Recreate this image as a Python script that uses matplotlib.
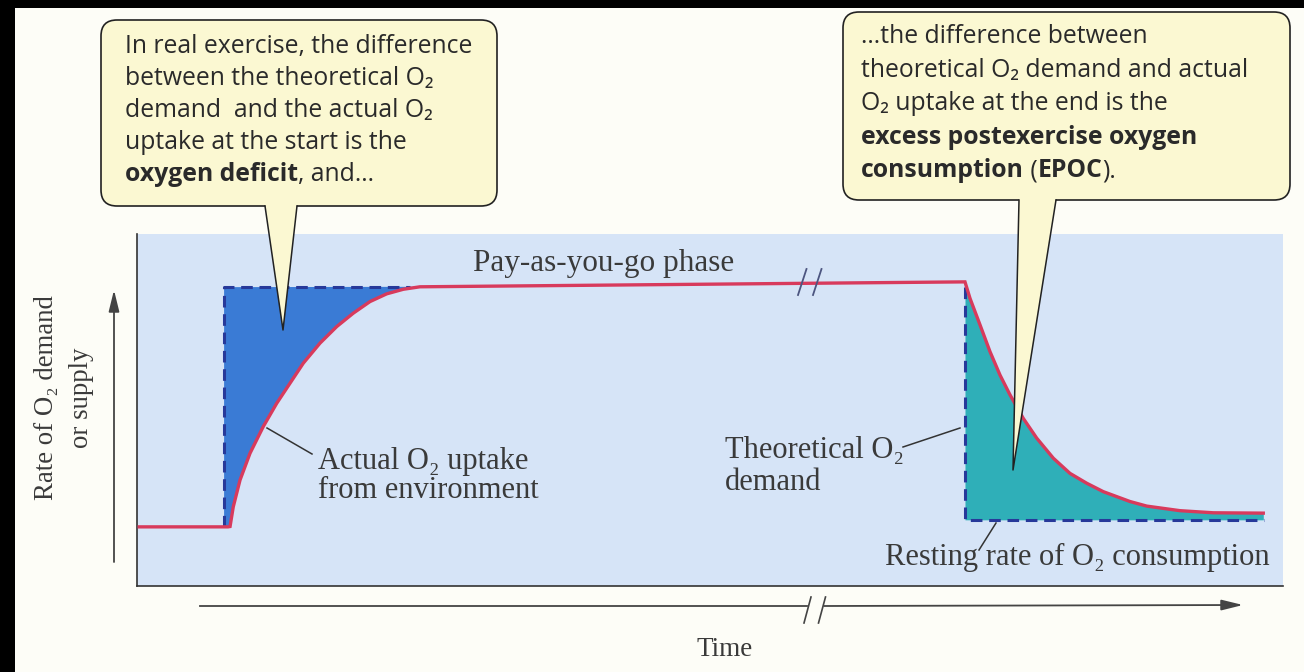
import matplotlib

matplotlib.use("Agg")
import matplotlib.pyplot as plt
import numpy as np
from matplotlib.patches import FancyBboxPatch, Polygon, Rectangle

# values (arbitrary time / O2-rate units, panel spans 0-100 on both)
rest_t = [0.2, 7.94]
rest_rate = [16.8, 16.8]
rise_t = [7.94, 8.12, 8.40, 8.99, 9.86, 11.02, 12.19, 13.35, 14.51, 15.97, 17.43, 18.87, 20.33, 21.79, 23.24, 24.69]
rise_rate = [16.8, 16.9, 22.5, 30.1, 37.7, 45.3, 51.9, 57.6, 63.3, 69.0, 73.7, 77.5, 80.8, 83.0, 84.3, 85.0]
plateau_t = [24.69, 72.25]
plateau_rate = [85.0, 86.4]
decline_t = [72.25, 72.69, 73.56, 74.43, 75.31, 76.18, 77.34, 78.51, 79.96, 81.41, 82.87, 84.32,
             86.65, 88.11, 91.01, 93.92, 98.28]
decline_rate = [86.4, 81.7, 74.2, 66.6, 59.9, 54.3, 47.6, 42.0, 36.3, 32.0, 29.2, 26.8,
                24.0, 22.7, 21.4, 20.8, 20.7]
demand_on_t = [7.6, 7.6, 23.8]
demand_on_rate = [16.8, 84.9, 84.9]
demand_off_t = [72.25, 72.25, 98.3]
demand_off_rate = [85.0, 18.8, 18.8]

box_left_lines = [
    [("In real exercise, the difference", False)],
    [("between the theoretical O\u2082", False)],
    [("demand  and the actual O\u2082", False)],
    [("uptake at the start is the", False)],
    [("oxygen deficit", True), (", and\u2026", False)],
]
box_right_lines = [
    [("\u2026the difference between", False)],
    [("theoretical O\u2082 demand and actual", False)],
    [("O\u2082 uptake at the end is the", False)],
    [("excess postexercise oxygen", True)],
    [("consumption", True), (" (", False), ("EPOC", True), (").", False)],
]

BG = "#fdfdf7"
PANEL = "#d6e4f7"
RED = "#d83a5c"
NAVY = "#27399a"
DEFICIT = "#3a7bd5"
EPOC = "#2fafb8"
BOX = "#fbf8d2"
INK = "#3a3a3a"
SANS = ["Open Sans", "DejaVu Sans"]
SERIF = ["Liberation Serif", "DejaVu Serif"]

W, H = 1304, 672
fig = plt.figure(figsize=(W / 100, H / 100), dpi=100, facecolor=BG)

# data panel
ax = fig.add_axes([137 / W, (H - 586) / H, (1283 - 137) / W, (586 - 234) / H])
ax.set_facecolor(PANEL)
ax.set_xlim(0, 100)
ax.set_ylim(0, 100)
ax.set_xticks([])
ax.set_yticks([])
for side in ("top", "right"):
    ax.spines[side].set_visible(False)
for side in ("left", "bottom"):
    ax.spines[side].set_color("#333333")
    ax.spines[side].set_linewidth(1.2)

fill_x = np.concatenate([demand_on_t[:2], rise_t[::-1]])
fill_y = np.concatenate([demand_on_rate[:2], rise_rate[::-1]])
ax.fill(fill_x, fill_y, color=DEFICIT, lw=0, zorder=2)
ax.fill_between(decline_t, demand_off_rate[-1], decline_rate, color=EPOC, lw=0, zorder=2)

dash = (0, (3.8, 2.2))
ax.plot(demand_on_t, demand_on_rate, color=NAVY, lw=2.2, ls=dash, zorder=3)
ax.plot(demand_off_t, demand_off_rate, color=NAVY, lw=2.2, ls=dash, zorder=3)

actual_t = np.concatenate([rest_t, rise_t[1:], plateau_t[1:], decline_t[1:]])
actual_rate = np.concatenate([rest_rate, rise_rate[1:], plateau_rate[1:], decline_rate[1:]])
ax.plot(actual_t, actual_rate, color=RED, lw=2.4, solid_joinstyle="miter", zorder=4)

# overlay in pixel coordinates for annotations
ov = fig.add_axes([0, 0, 1, 1], facecolor="none")
ov.set_xlim(0, W)
ov.set_ylim(H, 0)
ov.axis("off")

ov.add_patch(Rectangle((0, 0), W, 8, color="black", lw=0))
ov.add_patch(Rectangle((0, 0), 15, H, color="black", lw=0))

# break marks on curve and time axis
for x0 in (798, 813):
    ov.plot([x0, x0 + 8.5], [295, 269], color="#4c5580", lw=1.3)
for x0 in (804, 818.5):
    ov.plot([x0, x0 + 7], [623, 597], color="#444444", lw=1.2)

ov.plot([200, 807], [606, 606], color="#444444", lw=1.3)
ov.annotate("", xy=(1243, 605), xytext=(824, 606),
            arrowprops=dict(arrowstyle="-|>,head_length=1.3,head_width=0.32",
                            lw=1.3, color="#444444", shrinkA=0, shrinkB=0))
ov.annotate("", xy=(114, 290), xytext=(114, 562),
            arrowprops=dict(arrowstyle="-|>,head_length=1.3,head_width=0.32",
                            lw=1.3, color="#444444", shrinkA=0, shrinkB=0))

ov.text(725, 650, "Time", family=SERIF, fontsize=19.5, color=INK, ha="center", va="center")
ov.text(64, 398, "Rate of O\u2082 demand\nor supply", family=SERIF, fontsize=19.3, color=INK,
        rotation=90, ha="center", va="center", multialignment="center", linespacing=1.55)

ov.text(604, 264, "Pay-as-you-go phase", family=SERIF, fontsize=22.5, color=INK, ha="center", va="center")
ov.text(318, 462, "Actual O\u2082 uptake", family=SERIF, fontsize=22, color=INK, va="center")
ov.text(318, 491, "from environment", family=SERIF, fontsize=22, color=INK, va="center")
ov.text(725, 450, "Theoretical O\u2082", family=SERIF, fontsize=22, color=INK, va="center")
ov.text(725, 483, "demand", family=SERIF, fontsize=22, color=INK, va="center")
ov.text(885, 557, "Resting rate of O\u2082 consumption", family=SERIF, fontsize=22, color=INK, va="center")

for (xa, ya), (xb, yb) in [((267, 428), (312, 454)), ((903, 447), (960, 428)), ((996, 523), (979, 550))]:
    ov.plot([xa, xb], [ya, yb], color="#333333", lw=1.1)


def callout(x, y, w, h, base, tip):
    ov.add_patch(FancyBboxPatch((x, y), w, h, boxstyle="round,pad=0,rounding_size=16",
                                fc=BOX, ec="#222222", lw=1.2, zorder=5))
    (b0, b1), (tx, ty) = base, tip
    ov.add_patch(Polygon([(b0, y + h - 3), (tx, ty), (b1, y + h - 3)], closed=True,
                         fc=BOX, ec="none", zorder=6))
    ov.plot([b0, tx, b1], [y + h, ty, y + h], color="#222222", lw=1.1, zorder=7)


def write_lines(x, y0, step, lines):
    for i, parts in enumerate(lines):
        t = None
        for s, bold in parts:
            kw = dict(family=SANS, fontsize=17.8, color="#2a2a2a", va="bottom", ha="left",
                      fontweight="bold" if bold else "normal", zorder=8)
            if t is None:
                t = ov.text(x, y0 + i * step, s, **kw)
            else:
                t = ov.annotate(s, xy=(1, 0), xycoords=t, **kw)


callout(101, 20, 396, 186, (265, 297), (283, 330))
callout(843, 12, 447, 188, (1019, 1056), (1013, 470))
write_lines(125, 59, 32, box_left_lines)
write_lines(861, 49, 33.5, box_right_lines)

fig.savefig("out.png", dpi=100, facecolor=BG)
